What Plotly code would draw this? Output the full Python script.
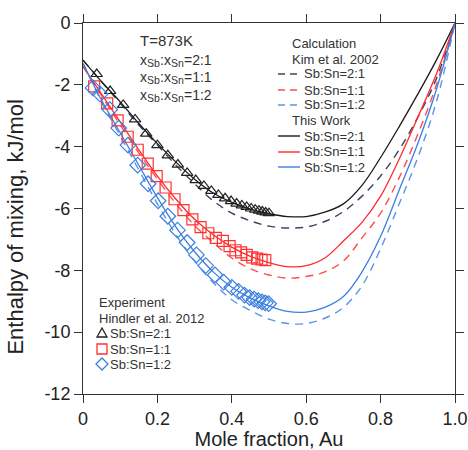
import plotly.graph_objects as go

# ---------------- data ----------------
x_calc = [0.0, 0.05, 0.1, 0.15, 0.2, 0.25, 0.3, 0.35, 0.4, 0.45, 0.5,
          0.55, 0.6, 0.65, 0.7, 0.75, 0.8, 0.85, 0.9, 0.95, 1.0]

# This work (solid)
this_21 = [-1.2, -1.9, -2.55, -3.25, -3.9, -4.5, -5.05, -5.5, -5.8, -6.02, -6.17,
           -6.26, -6.26, -6.12, -5.85, -5.25, -4.35, -3.35, -2.3, -1.2, 0.0]
this_11 = [-1.4, -2.3, -3.2, -4.1, -4.95, -5.7, -6.35, -6.85, -7.25, -7.55, -7.75,
           -7.88, -7.85, -7.6, -7.05, -6.45, -5.6, -4.4, -3.05, -1.65, 0.0]
this_12 = [-1.3, -2.5, -3.55, -4.6, -5.65, -6.6, -7.4, -8.05, -8.55, -8.9, -9.15,
           -9.33, -9.35, -9.2, -8.85, -8.05, -6.9, -5.4, -3.9, -2.15, 0.0]

# Kim et al. 2002 (dashed)
kim_21 = [-1.2, -1.9, -2.6, -3.3, -3.95, -4.6, -5.2, -5.75, -6.15, -6.4, -6.57,
          -6.63, -6.6, -6.42, -6.1, -5.6, -4.95, -4.1, -3.05, -1.8, 0.0]
kim_11 = [-1.4, -2.35, -3.3, -4.2, -5.05, -5.85, -6.55, -7.1, -7.6, -7.95, -8.15,
          -8.25, -8.2, -8.05, -7.7, -6.95, -6.15, -5.0, -3.6, -2.0, 0.0]
kim_12 = [-1.3, -2.55, -3.65, -4.75, -5.85, -6.85, -7.7, -8.4, -8.95, -9.3, -9.58,
          -9.72, -9.72, -9.55, -9.2, -8.5, -7.3, -5.85, -4.35, -2.55, 0.0]

# Experiment, Hindler et al. 2012
exp21_x = [0.037, 0.073, 0.108, 0.14, 0.17, 0.2, 0.228, 0.255, 0.28, 0.303, 0.325, 0.345,
           0.364, 0.382, 0.398, 0.413, 0.427, 0.44, 0.452, 0.463, 0.473, 0.482, 0.491, 0.5]
exp21_y = [-1.65, -2.2, -2.65, -3.12, -3.58, -3.95, -4.28, -4.58, -4.85, -5.08, -5.27, -5.43,
           -5.56, -5.67, -5.76, -5.84, -5.9, -5.95, -6.0, -6.04, -6.07, -6.1, -6.13, -6.15]

exp11_x = [0.03, 0.065, 0.093, 0.12, 0.147, 0.174, 0.198, 0.222, 0.246, 0.27, 0.294, 0.316,
           0.337, 0.357, 0.376, 0.394, 0.41, 0.425, 0.44, 0.455, 0.468, 0.48, 0.49]
exp11_y = [-2.05, -2.6, -3.15, -3.68, -4.1, -4.55, -4.95, -5.32, -5.7, -6.05, -6.35, -6.6,
           -6.8, -6.95, -7.05, -7.22, -7.35, -7.42, -7.5, -7.58, -7.62, -7.65, -7.67]

exp12_x = [0.027, 0.046, 0.072, 0.096, 0.121, 0.147, 0.175, 0.202, 0.228, 0.254, 0.28, 0.305,
           0.33, 0.355, 0.378, 0.4, 0.418, 0.434, 0.448, 0.46, 0.471, 0.481, 0.49, 0.499]
exp12_y = [-2.1, -2.3, -2.8, -3.4, -3.95, -4.6, -5.2, -5.75, -6.25, -6.7, -7.1, -7.5,
           -7.85, -8.15, -8.38, -8.55, -8.68, -8.8, -8.88, -8.93, -8.98, -9.02, -9.05, -9.08]

series_labels = ["Sb:Sn=2:1", "Sb:Sn=1:1", "Sb:Sn=1:2"]
ratio_labels = ["2:1", "1:1", "1:2"]

x_tickvals = [0, 0.2, 0.4, 0.6, 0.8, 1.0]
x_ticktext = ["0", "0.2", "0.4", "0.6", "0.8", "1.0"]
y_tickvals = [0, -2, -4, -6, -8, -10, -12]
y_ticktext = ["0", "-2", "-4", "-6", "-8", "-10", "-12"]

# ---------------- styles ----------------
FONT = "Liberation Sans, Arial, sans-serif"
TXT = "#333333"
solid_colors = ["#1a1a1a", "#ff2a2a", "#3b7fe0"]
dash_colors = ["#384563", "#ff4d4d", "#5a94ec"]
marker_colors = ["#222222", "#ff3030", "#3b7fe0"]
marker_syms = ["triangle-up-open", "square-open", "diamond-open"]
marker_sizes = [10, 11, 12]
DASH = "8px,6px"

fig = go.Figure()

kim = [kim_21, kim_11, kim_12]
this = [this_21, this_11, this_12]
for i in range(3):
    fig.add_trace(go.Scatter(
        x=x_calc, y=kim[i], mode="lines", name="Kim " + series_labels[i], showlegend=False,
        line=dict(color=dash_colors[i], width=1.4, dash=DASH, shape="spline", smoothing=1.0)))
for i in range(3):
    fig.add_trace(go.Scatter(
        x=x_calc, y=this[i], mode="lines", name="This work " + series_labels[i], showlegend=False,
        line=dict(color=solid_colors[i], width=1.3, shape="spline", smoothing=1.0)))

exps = [(exp21_x, exp21_y), (exp11_x, exp11_y), (exp12_x, exp12_y)]
for i in range(3):
    fig.add_trace(go.Scatter(
        x=exps[i][0], y=exps[i][1], mode="markers", name="Hindler " + series_labels[i],
        showlegend=False,
        marker=dict(symbol=marker_syms[i], size=marker_sizes[i], color=marker_colors[i],
                    line=dict(width=1.2, color=marker_colors[i]))))

def px2x(px):
    return (px - 83) / 372.0

def py2y(py):
    return (394 - py) / 371.0

def add_text(t, px, py, size=13):
    fig.add_annotation(text=t, xref="paper", yref="paper", x=px2x(px), y=py2y(py),
                       xanchor="left", yanchor="middle", showarrow=False,
                       font=dict(family=FONT, size=size, color=TXT))

# condition annotations
add_text("T=873K", 138, 40, 15)
ratio_rows = [60, 77, 95]
MAIN, SUB = 14, 10.5
# advance widths (Arial / Liberation Sans metrics, em units)
W = {"x": 0.5, "S": 0.667, "b": 0.556, "n": 0.556, ":": 0.278}
for lab, py in zip(ratio_labels, ratio_rows):
    cx = 138.0
    add_text("x", cx, py, MAIN)
    cx += W["x"] * MAIN
    add_text("Sb", cx, py + 3, SUB)
    cx += (W["S"] + W["b"]) * SUB
    add_text(":x", cx, py, MAIN)
    cx += (W[":"] + W["x"]) * MAIN
    add_text("Sn", cx, py + 3, SUB)
    cx += (W["S"] + W["n"]) * SUB
    add_text("=" + lab, cx, py, MAIN)

# legend block: calculation (Kim et al. 2002), dashed
add_text("Calculation", 290, 43)
add_text("Kim et al. 2002", 290, 59)
calc_rows = [74, 90, 105]
for i, py in enumerate(calc_rows):
    fig.add_shape(type="line", xref="paper", yref="paper",
                  x0=px2x(278), x1=px2x(300), y0=py2y(py), y1=py2y(py),
                  line=dict(color=dash_colors[i], width=1.4, dash="7px,5px"))
    add_text(series_labels[i], 302, py)

# legend block: this work, solid
add_text("This Work", 290, 120)
work_rows = [136, 152, 167]
for i, py in enumerate(work_rows):
    fig.add_shape(type="line", xref="paper", yref="paper",
                  x0=px2x(278), x1=px2x(300), y0=py2y(py), y1=py2y(py),
                  line=dict(color=solid_colors[i], width=1.4))
    add_text(series_labels[i], 302, py)

# legend block: experiment
add_text("Experiment", 97, 302)
add_text("Hindler et al. 2012", 97, 318)
exp_rows = [333, 349, 364]
key_paths = ["M-5,-4L5,-4L0,5Z", "M-5,-5L5,-5L5,5L-5,5Z", "M0,-6L6,0L0,6L-6,0Z"]
for i, py in enumerate(exp_rows):
    fig.add_shape(type="path", xref="paper", yref="paper",
                  xsizemode="pixel", ysizemode="pixel",
                  xanchor=px2x(102), yanchor=py2y(py), path=key_paths[i],
                  line=dict(color=marker_colors[i], width=1.3), fillcolor="rgba(0,0,0,0)")
    add_text(series_labels[i], 108, py)

axis_common = dict(ticks="outside", ticklen=8, tickwidth=1, tickcolor="#333",
                   showline=True, linecolor="#333", linewidth=1, mirror="ticks",
                   showgrid=False, zeroline=False, automargin=False,
                   tickfont=dict(family=FONT, size=18, color="#222"))

# trailing non-breaking spaces shift the rotated title slightly downward, as in the reference
y_title = "Enthalpy of mixing, kJ/mol" + "&nbsp;" * 6

fig.update_layout(
    width=468, height=450,
    margin=dict(l=83, r=13, t=23, b=56),
    paper_bgcolor="white", plot_bgcolor="white",
    font=dict(family=FONT, color="#222"),
    showlegend=False,
    xaxis=dict(range=[0, 1], tickvals=x_tickvals, ticktext=x_ticktext,
               title=dict(text="Mole fraction, Au", font=dict(family=FONT, size=20, color="#222"), standoff=6),
               **axis_common),
    yaxis=dict(range=[-12, 0], tickvals=y_tickvals, ticktext=y_ticktext,
               title=dict(text=y_title, font=dict(family=FONT, size=22, color="#222"), standoff=14),
               **axis_common),
)

fig.write_html("out.html")
